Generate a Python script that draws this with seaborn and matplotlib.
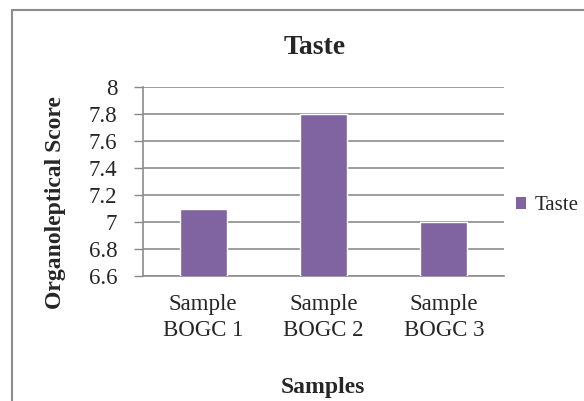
import matplotlib
matplotlib.use("Agg")
import matplotlib.pyplot as plt
import seaborn as sns
import pandas as pd
from matplotlib.lines import Line2D
from matplotlib.patches import Patch

categories = ["Sample\nBOGC 1", "Sample\nBOGC 2", "Sample\nBOGC 3"]
values = [7.1, 7.8, 7.0]
yticks = [6.6, 6.8, 7.0, 7.2, 7.4, 7.6, 7.8, 8.0]
ytick_labels = ["6.6", "6.8", "7", "7.2", "7.4", "7.6", "7.8", "8"]

sns.set_style("white")
plt.rcParams['font.family'] = ['Liberation Serif', 'DejaVu Serif']

df = pd.DataFrame({"Samples": categories, "Score": values})

W, H = 584, 401
fig = plt.figure(figsize=(W/100, H/100), dpi=100)
ax = fig.add_axes([143/W, 1-276/H, (504-143)/W, (276-87)/H])
color = "#8064A2"
sns.barplot(data=df, x="Samples", y="Score", color=color, width=0.39,
            saturation=1, ax=ax, zorder=3)
ax.set_ylim(6.6, 8.0)
ax.set_yticks(yticks)
ax.set_yticklabels(ytick_labels, fontsize=16.5)
ax.tick_params(axis='y', length=6.5, color='#888888', width=1, pad=12, direction='out', left=True)
ax.tick_params(axis='x', length=0, pad=13, labelsize=16.5)
for lab in ax.get_xticklabels():
    lab.set_linespacing(1.3)
ax.grid(axis='y', color='#8c8c8c', linewidth=1.2, zorder=0)
ax.set_axisbelow(True)
for s in ['top', 'right']:
    ax.spines[s].set_visible(False)
for s in ['left', 'bottom']:
    ax.spines[s].set_color('#8c8c8c')
    ax.spines[s].set_linewidth(1.2)
ax.set_xlabel("")
ax.set_ylabel("")

fig.text(315/W, 1-54/H, "Taste", fontsize=20, fontweight='bold', ha='center', va='baseline')
fig.text(323/W, 1-388/H, "Samples", fontsize=17, fontweight='bold', ha='center', va='center')
fig.text(56/W, 1-203/H, "Organoleptical Score", fontsize=17, fontweight='bold',
         ha='center', va='center', rotation=90)

fig.legend(handles=[Patch(facecolor=color, edgecolor='none', label="Taste")],
           loc='center left', bbox_to_anchor=(516/W, 1-206/H), frameon=False,
           fontsize=15, handlelength=0.5, handleheight=0.5, handletextpad=0.4,
           borderaxespad=0, borderpad=0)

fig.add_artist(Line2D([12/W, 12/W], [0, 1-10/H], color='#8c8c8c', lw=1.5, transform=fig.transFigure))
fig.add_artist(Line2D([12/W, 1], [1-10/H, 1-10/H], color='#8c8c8c', lw=1.5, transform=fig.transFigure))

fig.savefig("out.png", dpi=100)
